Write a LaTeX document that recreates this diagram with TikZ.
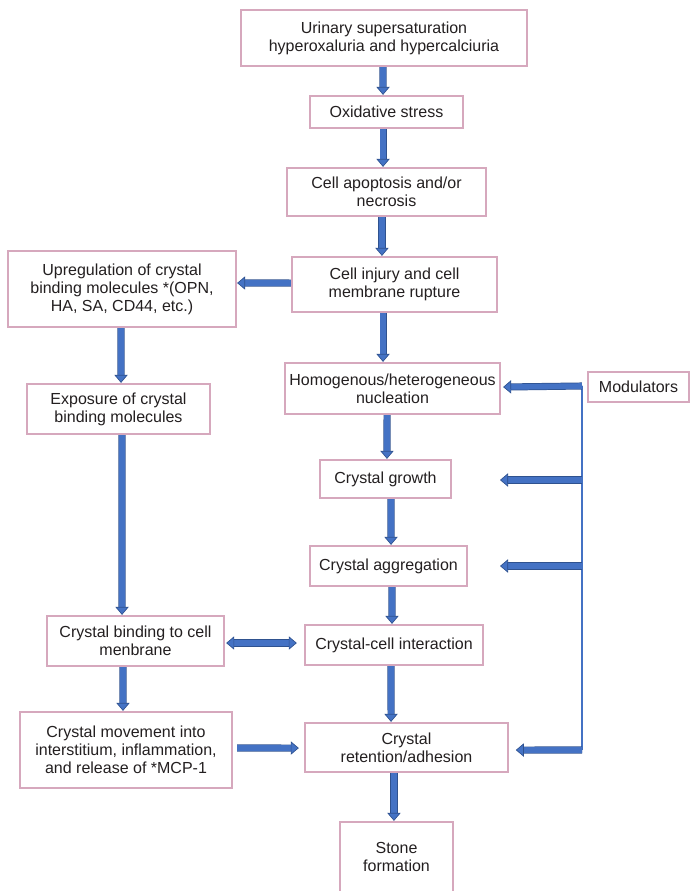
\documentclass[tikz,border=0pt]{standalone}
\usepackage{fontspec}
\setmainfont{Liberation Sans}
\usetikzlibrary{arrows.meta}
\definecolor{bfill}{RGB}{68,114,196}
\definecolor{bedge}{RGB}{47,82,143}
\definecolor{pinkb}{RGB}{214,168,189}
\definecolor{txt}{RGB}{35,31,32}
\tikzset{
  box/.style={draw=pinkb, line width=1.7pt, fill=white, inner sep=0pt, align=center,
    text=txt, font=\fontsize{12pt}{13.5pt}\selectfont},
  sz/.style 2 args={minimum width=#1pt, minimum height=#2pt},
  btip/.tip={Triangle[length=6pt,width=10pt,line width=0.5pt,color=bedge,fill=bfill]},
  ba/.style={draw=bfill, line width=4.2pt, -btip,
    preaction={draw=bedge, line width=5.3pt, shorten >=5pt, -}},
  dba/.style={draw=bfill, line width=4.2pt, btip-btip,
    preaction={draw=bedge, line width=5.3pt, shorten >=5pt, shorten <=5pt, -}},
  vline/.style={draw=bfill, line width=0.8pt}
}
\begin{document}
\begin{tikzpicture}[x=0.75pt,y=-0.75pt]
\useasboundingbox (0,0) rectangle (689,891);
\node[box,sz={214.5}{42}] (u) at (384,38) {Urinary supersaturation\\hyperoxaluria and hypercalciuria};
\node[box,sz={114.75}{24}] (ox) at (386.5,112) {Oxidative stress};
\node[box,sz={149.25}{36}] (ap) at (386.5,192) {Cell apoptosis and/or\\necrosis};
\node[box,sz={153.75}{41.25}] (inj) at (394.5,284.5) {Cell injury and cell\\membrane rupture};
\node[box,sz={171}{57}] (up) at (122,289) {Upregulation of crystal\\binding molecules *(OPN,\\HA, SA, CD44, etc.)};
\node[box,sz={137.25}{37.5}] (ex) at (118.5,409) {Exposure of crystal\\binding molecules};
\node[box,sz={161.25}{38.25}] (hom) at (392.5,388.5) {Homogenous/heterogeneous\\nucleation};
\node[box,sz={75.75}{22.5}] (mod) at (638.5,387) {Modulators};
\node[box,sz={98.25}{28.5}] (gr) at (385.5,479) {Crystal growth};
\node[box,sz={117.75}{30}] (ag) at (388.5,566) {Crystal aggregation};
\node[box,sz={132.75}{37.5}] (bind) at (135.5,641) {Crystal binding to cell\\menbrane};
\node[box,sz={133.5}{30}] (cci) at (394,645) {Crystal-cell interaction};
\node[box,sz={159}{57}] (mov) at (126,750) {Crystal movement into\\interstitium, inflammation,\\and release of *MCP-1};
\node[box,sz={152.25}{36.75}] (ret) at (406.5,747.5) {Crystal\\retention/adhesion};
\node[box,sz={84.75}{52.5}] (st) at (396.5,857) {Stone\\formation};

% main column arrows
\draw[ba] ([xshift=-0.75pt]u.south) -- ([xshift=-2.6pt]ox.north);
\draw[ba] ([xshift=-2.6pt]ox.south) -- ([xshift=-2.6pt]ap.north);
\draw[ba] ([xshift=-3.4pt]ap.south) -- ([xshift=-9.4pt]inj.north);
\draw[ba] ([xshift=-8.6pt]inj.south) -- ([xshift=-7.1pt]hom.north);
\draw[ba] ([xshift=-4.1pt]hom.south) -- ([xshift=1.1pt]gr.north);
\draw[ba] ([xshift=4.1pt]gr.south) -- ([xshift=1.9pt]ag.north);
\draw[ba] ([xshift=2.6pt]ag.south) -- ([xshift=-1.5pt]cci.north);
\draw[ba] ([xshift=-2.25pt]cci.south) -- ([xshift=-11.6pt]ret.north);
\draw[ba] ([xshift=-9.4pt]ret.south) -- ([xshift=-1.9pt]st.north);
% left column
\draw[ba] ([yshift=1.1pt]inj.west) -- ([yshift=4.5pt]up.east);
\draw[ba] ([xshift=-0.75pt]up.south) -- ([xshift=1.9pt]ex.north);
\draw[ba] ([xshift=2.6pt]ex.south) -- ([xshift=-10.1pt]bind.north);
\draw[ba] ([xshift=-9.4pt]bind.south) -- ([xshift=-2.25pt]mov.north);
\draw[dba] ([yshift=-1.5pt,xshift=0.8pt]bind.east) -- ([yshift=1.5pt,xshift=-5.3pt]cci.west);
\draw[ba] ([yshift=1.5pt,xshift=3pt]mov.east) -- ([yshift=-0.4pt,xshift=-3.8pt]ret.west);
% modulators
\coordinate (m1) at (582,386);
\coordinate (m2) at (582,480);
\coordinate (m3) at (582,566);
\coordinate (m4) at (582,750);
\coordinate (g2) at (500,480);
\coordinate (g3) at (500,566);
\draw[vline] (m1) -- (m4);
\draw[ba] (m1) -- ([yshift=1.1pt,xshift=1.5pt]hom.east);
\draw[ba] (m2) -- (g2);
\draw[ba] (m3) -- (g3);
\draw[ba] (m4) -- ([yshift=-1.9pt,xshift=5pt]ret.east);
\end{tikzpicture}
\end{document}
